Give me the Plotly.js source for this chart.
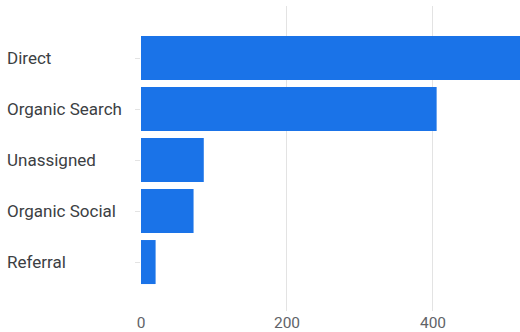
<!DOCTYPE html>
<html>
<head>
<meta charset="utf-8">
<script src="https://cdn.plot.ly/plotly-3.0.1.min.js"></script>
<style>html,body{margin:0;padding:0;background:#fff;}#chart{width:520px;height:332px;}</style>
</head>
<body>
<div id="chart"></div>
<script>
const categories = ["Direct", "Organic Search", "Unassigned", "Organic Social", "Referral"];
const values = [545, 405, 86, 72, 20];
const xTickValues = [0, 200, 400];
const xTickLabels = ["0", "200", "400"];

const trace = {
  type: 'bar',
  orientation: 'h',
  y: categories,
  x: values,
  marker: {color: '#1a73e8'},
  hoverinfo: 'skip'
};

const annotations = categories.map(c => ({
  xref: 'paper', yref: 'y',
  x: -141/379, y: c,
  xanchor: 'left', yanchor: 'middle',
  text: c, showarrow: false,
  xshift: 5,
  font: {family: 'Roboto, sans-serif', size: 17, color: '#3c4043'}
}));

const layout = {
  width: 520, height: 332,
  margin: {l: 141, r: 0, t: 6, b: 21, pad: 0},
  paper_bgcolor: '#fff', plot_bgcolor: '#fff',
  showlegend: false,
  bargap: 0.137,
  xaxis: {
    range: [0, 519.2],
    tickvals: xTickValues, ticktext: xTickLabels,
    showgrid: true, gridcolor: '#e3e3e3', gridwidth: 1,
    zeroline: false, showline: false, ticks: '',
    tickfont: {family: 'Roboto, sans-serif', size: 15.5, color: '#5f6368'},
    fixedrange: true
  },
  yaxis: {
    type: 'category',
    categoryorder: 'array', categoryarray: categories,
    range: [4.96, -1.02],
    showticklabels: false,
    ticks: 'outside', ticklen: 5, tickcolor: '#e3e3e3',
    showgrid: false, zeroline: false, showline: false,
    fixedrange: true
  },
  annotations: annotations
};

Plotly.newPlot('chart', [trace], layout, {displayModeBar: false, staticPlot: true});
</script>
</body>
</html>
